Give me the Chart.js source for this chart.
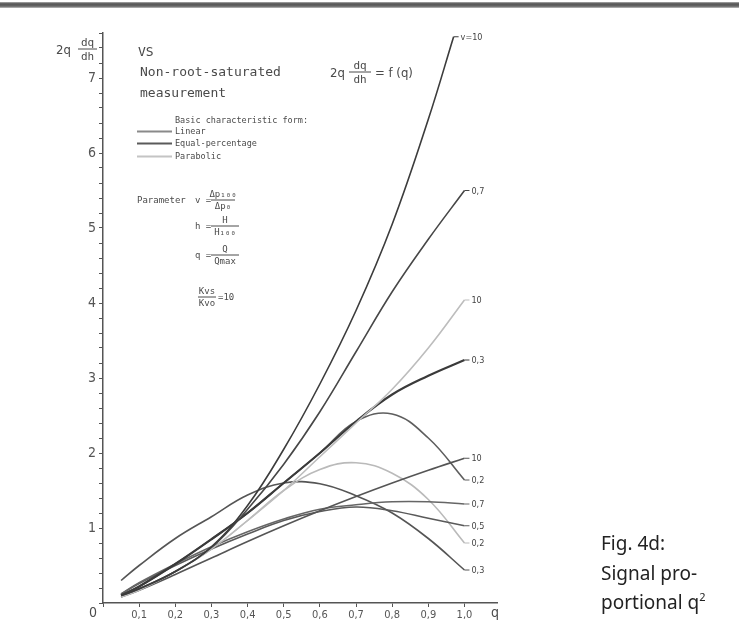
<!DOCTYPE html>
<html lang="en">
<head>
<meta charset="UTF-8">
<title>Fig. 4d</title>
<script src="https://cdn.jsdelivr.net/npm/chart.js@4.4.1/dist/chart.umd.min.js"></script>
<style>
  body { margin: 0; background: #fff; }
  #wrap { position: relative; width: 739px; height: 625px; overflow: hidden; background: #fff; }
  #topline { position: absolute; left: 0; top: 2px; width: 739px; height: 6px;
             background: linear-gradient(#b0b0b0, #555 30%, #666 70%, #c0c0c0); }
  #caption { position: absolute; left: 601px; top: 529px; font: 19px 'Noto Sans', sans-serif;
             line-height: 29.5px; color: #222; }
  #caption sup { font-size: 11px; vertical-align: 8px; line-height: 0; }
  canvas { position: absolute; left: 0; top: 0; }
</style>
</head>
<body>
<div id="wrap">
  <div id="topline"></div>
  <canvas id="chart" width="739" height="625"></canvas>
  <div id="caption">Fig. 4d:<br>Signal pro-<br>portional q<sup>2</sup></div>
</div>

<script>
// q = Q / Q100 (relative flow)
const q      = [0.05, 0.1, 0.2, 0.3, 0.4, 0.5, 0.6, 0.7, 0.8, 0.9, 1.0];
const qTop   = [0.05, 0.1, 0.2, 0.3, 0.4, 0.5, 0.6, 0.7, 0.8, 0.9, 0.97];

const top10      = [0.10, 0.19, 0.42, 0.75, 1.30, 2.05, 2.92, 3.90, 5.05, 6.45, 7.55];
const steep07    = [0.10, 0.19, 0.42, 0.74, 1.25, 1.85, 2.55, 3.35, 4.15, 4.85, 5.50];
const parab10    = [0.08, 0.17, 0.42, 0.72, 1.10, 1.50, 1.95, 2.40, 2.85, 3.40, 4.04];
const thick03    = [0.10, 0.22, 0.52, 0.85, 1.20, 1.60, 2.00, 2.42, 2.78, 3.03, 3.24];
const peak02     = [0.10, 0.22, 0.52, 0.85, 1.20, 1.60, 2.00, 2.42, 2.52, 2.20, 1.64];
const peak03     = [0.30, 0.50, 0.86, 1.15, 1.44, 1.60, 1.59, 1.43, 1.20, 0.86, 0.44];
const parabPk02  = [0.08, 0.17, 0.42, 0.72, 1.10, 1.50, 1.78, 1.87, 1.73, 1.38, 0.80];
const lin10      = [0.08, 0.17, 0.38, 0.60, 0.82, 1.03, 1.23, 1.42, 1.60, 1.77, 1.93];
const flat07     = [0.12, 0.27, 0.52, 0.75, 0.95, 1.12, 1.25, 1.31, 1.35, 1.35, 1.32];
const flat05     = [0.12, 0.26, 0.50, 0.72, 0.92, 1.10, 1.22, 1.28, 1.23, 1.13, 1.03];

const xTickLabels = ['', '0,1', '0,2', '0,3', '0,4', '0,5', '0,6', '0,7', '0,8', '0,9', '1,0'];
const yTickLabels = ['', '1', '2', '3', '4', '5', '6', '7'];

const series = [
  { label: 'v=10', xs: qTop, ys: top10,     color: '#3c3c3c', width: 1.6 },
  { label: '0,7',  xs: q,    ys: steep07,   color: '#474747', width: 1.6 },
  { label: '10',   xs: q,    ys: parab10,   color: '#bdbdbd', width: 1.6 },
  { label: '0,3',  xs: q,    ys: thick03,   color: '#3a3a3a', width: 2.2 },
  { label: '10',   xs: q,    ys: lin10,     color: '#555555', width: 1.6 },
  { label: '0,2',  xs: q,    ys: peak02,    color: '#5e5e5e', width: 1.6 },
  { label: '0,7',  xs: q,    ys: flat07,    color: '#666666', width: 1.6 },
  { label: '0,5',  xs: q,    ys: flat05,    color: '#5a5a5a', width: 1.6 },
  { label: '0,2',  xs: q,    ys: parabPk02, color: '#bababa', width: 1.6 },
  { label: '0,3',  xs: q,    ys: peak03,    color: '#555555', width: 1.6 }
];

const mono = "'DejaVu Sans Mono', monospace";

function frac(c, x, num, den, yLine, w, size) {
  c.font = size + 'px ' + mono;
  c.textAlign = 'center';
  c.fillText(num, x + w / 2, yLine - 3);
  c.fillText(den, x + w / 2, yLine + size);
  c.beginPath(); c.moveTo(x, yLine); c.lineTo(x + w, yLine); c.stroke();
  c.textAlign = 'left';
}

const notes = {
  id: 'notes',
  afterDraw(chart) {
    const c = chart.ctx, xs = chart.scales.x, ys = chart.scales.y;
    c.save();
    c.fillStyle = '#4a4a4a';
    c.strokeStyle = '#4a4a4a';
    c.lineWidth = 1;
    c.textBaseline = 'alphabetic';

    // axis title 2q dq/dh
    c.font = "13px 'DejaVu Sans Condensed', sans-serif";
    c.fillText('2q', 56, 54);
    frac(c, 78, 'dq', 'dh', 49, 19, 11);

    // origin and q
    c.font = "14px 'DejaVu Sans Condensed', sans-serif";
    c.textAlign = 'center';
    c.fillText('0', 93, 617);
    c.fillText('q', 495, 617);
    c.textAlign = 'left';

    // headings
    c.font = '13px ' + mono;
    c.fillText('VS', 138, 56);
    c.fillText('Non-root-saturated', 140, 76);
    c.fillText('measurement', 140, 97);

    // characteristic legend
    c.font = '8.5px ' + mono;
    c.fillText('Basic characteristic form:', 175, 123);
    const legend = [['Linear', '#8a8a8a', 134], ['Equal-percentage', '#5a5a5a', 146], ['Parabolic', '#c4c4c4', 159]];
    legend.forEach(([t, col, y]) => {
      c.strokeStyle = col; c.lineWidth = 2;
      c.beginPath(); c.moveTo(137, y - 2.5); c.lineTo(172, y - 2.5); c.stroke();
      c.fillText(t, 175, y);
    });
    c.strokeStyle = '#4a4a4a'; c.lineWidth = 1;

    // parameter definitions
    c.font = '9px ' + mono;
    c.fillText('Parameter', 137, 203);
    c.fillText('v =', 195, 203);
    frac(c, 211, 'Δp₁₀₀', 'Δp₀', 200, 24, 9);
    c.font = '9px ' + mono;
    c.fillText('h =', 195, 229);
    frac(c, 211, 'H', 'H₁₀₀', 226, 28, 9);
    c.font = '9px ' + mono;
    c.fillText('q =', 195, 258);
    frac(c, 211, 'Q', 'Qmax', 255, 28, 9);
    frac(c, 198, 'Kvs', 'Kvo', 297, 18, 9);
    c.font = '9px ' + mono;
    c.fillText('=10', 218, 300);

    // formula
    c.font = "13px 'DejaVu Sans Condensed', sans-serif";
    c.fillText('2q', 330, 77);
    frac(c, 349, 'dq', 'dh', 72, 22, 11);
    c.font = "13px 'DejaVu Sans Condensed', sans-serif";
    c.fillText('= f (q)', 375, 77);

    // end labels of the curves
    c.font = "9px 'DejaVu Sans Condensed', sans-serif";
    series.forEach(s => {
      const n = s.ys.length - 1;
      const px = xs.getPixelForValue(s.xs[n]);
      const py = ys.getPixelForValue(s.ys[n]);
      c.strokeStyle = s.color; c.lineWidth = 1;
      c.beginPath(); c.moveTo(px, py); c.lineTo(px + 5, py); c.stroke();
      c.fillStyle = '#444';
      c.fillText(s.label, px + 7, py + 3);
    });
    c.restore();
  }
};

new Chart(document.getElementById('chart'), {
  type: 'line',
  data: {
    datasets: series.map(s => ({
      data: s.xs.map((x, i) => ({ x: x, y: s.ys[i] })),
      borderColor: s.color,
      borderWidth: s.width,
      pointRadius: 0,
      tension: 0.4,
      fill: false
    }))
  },
  options: {
    responsive: false,
    animation: false,
    layout: { padding: { left: 73, top: 33, right: 242, bottom: 0 } },
    plugins: { legend: { display: false }, tooltip: { enabled: false } },
    scales: {
      x: {
        type: 'linear', min: 0, max: 1.09,
        afterFit: s => { s.height = 22; },
        afterBuildTicks: s => { s.ticks = xTickLabels.map((t, i) => ({ value: i / 10 })); },
        ticks: {
          autoSkip: false, maxRotation: 0, padding: 2,
          color: '#555', font: { family: "'DejaVu Sans Condensed', sans-serif", size: 11 },
          callback: (v, i) => xTickLabels[i] || ''
        },
        grid: { drawOnChartArea: false, tickLength: 4, color: '#555' },
        border: { color: '#555', width: 1.5 }
      },
      y: {
        type: 'linear', min: 0, max: 7.6,
        afterFit: s => { s.width = 30; },
        ticks: {
          stepSize: 0.2, autoSkip: false, padding: 3,
          color: '#555', font: { family: "'DejaVu Sans Condensed', sans-serif", size: 14 },
          callback: v => {
            const r = Math.round(v * 5) / 5;
            return Math.abs(r - Math.round(r)) < 1e-6 ? (yTickLabels[Math.round(r)] || '') : '';
          }
        },
        grid: { drawOnChartArea: false, tickLength: 4, color: '#555' },
        border: { color: '#555', width: 1.5 }
      }
    }
  },
  plugins: [notes]
});
</script>
</body>
</html>
